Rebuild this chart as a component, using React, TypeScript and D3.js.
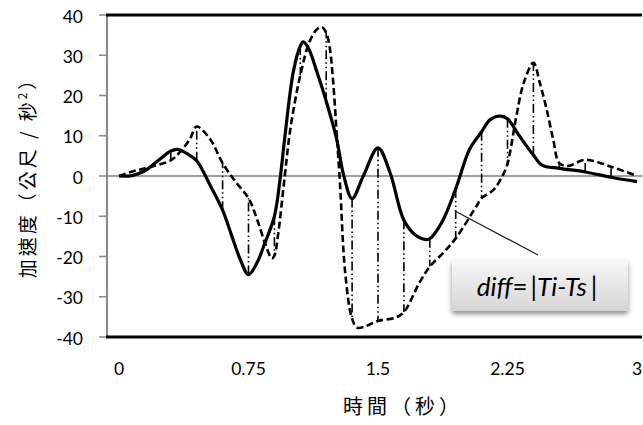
import React from 'react';
import * as d3 from 'd3';

// Solid curve (Ts)
const solidT = [0, 0.075, 0.15, 0.225, 0.3, 0.34, 0.4, 0.45, 0.53, 0.6, 0.65, 0.7, 0.75, 0.8, 0.84, 0.9, 0.935, 0.96, 1.01, 1.05, 1.067, 1.1, 1.145, 1.2, 1.26, 1.3, 1.35, 1.415, 1.5, 1.57, 1.65, 1.72, 1.78, 1.8, 1.87, 1.95, 2.03, 2.1, 2.15, 2.21, 2.25, 2.32, 2.4, 2.45, 2.55, 2.7, 2.85, 3];
const solidV = [0, 0.1, 1.3, 3.8, 6.2, 6.6, 5.4, 3.8, -2.5, -8.5, -14.5, -20.5, -24.5, -21.5, -17.2, -10, 0, 9.5, 26, 32.3, 33.3, 31.5, 26, 18.6, 9.3, 0.4, -5.6, 0, 7, 0.8, -11, -14.8, -15.8, -15.6, -11.5, -3.2, 6.6, 11, 14, 14.9, 14.2, 9.9, 5.2, 2.7, 1.9, 1.0, -0.3, -1.4];

// Dashed curve (Ti)
const dashedT = [0, 0.083, 0.15, 0.3, 0.35, 0.41, 0.45, 0.53, 0.6, 0.68, 0.75, 0.8, 0.845, 0.885, 0.9, 0.92, 0.96, 0.99, 1.03, 1.05, 1.1, 1.145, 1.175, 1.2, 1.22, 1.24, 1.26, 1.28, 1.31, 1.35, 1.38, 1.43, 1.5, 1.6, 1.65, 1.74, 1.8, 1.88, 1.95, 2.07, 2.1, 2.17, 2.225, 2.25, 2.3, 2.343, 2.4, 2.438, 2.477, 2.515, 2.55, 2.6, 2.7, 2.85, 3];
const dashedV = [0, 1.2, 1.9, 3.9, 5.8, 9.1, 12.3, 9, 3.2, -1.7, -5.5, -10.8, -16.6, -20.5, -19.8, -15, 0, 11, 21, 25, 33, 36.4, 37, 35.6, 32, 23.6, 11, -2, -24, -35.5, -37.7, -37.3, -36, -35.2, -33.8, -26.5, -22.5, -19, -15.5, -7.5, -5.5, -3.4, 0.4, 3, 14.5, 23, 28.1, 23, 16.5, 9, 3.2, 2.5, 4.0, 2.3, 0];

// Times at which the difference lines are drawn
const diffTimes = [0.15, 0.3, 0.45, 0.6, 0.75, 0.9, 1.05, 1.2, 1.35, 1.5, 1.65, 1.8, 1.95, 2.1, 2.25, 2.4, 2.55, 2.7, 2.85];

const yTicks = [-40, -30, -20, -10, 0, 10, 20, 30, 40];
const xTickValues = [0, 0.75, 1.5, 2.25, 3];
const xTickLabels = ['0', '0.75', '1.5', '2.25', '3'];

const W = 643;
const H = 425;
const plotLeft = 106;
const plotRight = 642;
const plotTop = 15;
const plotBottom = 337;

const x = d3.scaleLinear().domain([0, 3]).range([119, 637]);
const y = d3.scaleLinear().domain([-40, 40]).range([plotBottom, plotTop]);

const line = d3
  .line<[number, number]>()
  .x((d) => x(d[0]))
  .y((d) => y(d[1]))
  .curve(d3.curveCatmullRom.alpha(0.5));

const solidPts: [number, number][] = solidT.map((t, i) => [t, solidV[i]]);
const dashedPts: [number, number][] = dashedT.map((t, i) => [t, dashedV[i]]);

const findVal = (ts: number[], vs: number[], t: number) => {
  const i = ts.findIndex((v) => Math.abs(v - t) < 1e-9);
  return vs[i];
};

const tickFont = 'Lato, "Open Sans", sans-serif';
const cjkFont = '"Noto Sans CJK TC", "Noto Sans CJK SC", sans-serif';

export default function App() {
  return (
    <svg
      width={W}
      height={H}
      viewBox={`0 0 ${W} ${H}`}
      style={{ position: 'absolute', left: 0, top: 0, background: '#fff' }}
    >
      <defs>
        <linearGradient id="boxGrad" x1="0" y1="0" x2="0" y2="1">
          <stop offset="0" stopColor="#f7f7f7" />
          <stop offset="1" stopColor="#d6d6d6" />
        </linearGradient>
        <filter id="shadow" x="-20%" y="-30%" width="140%" height="170%">
          <feGaussianBlur in="SourceAlpha" stdDeviation="2.5" />
          <feOffset dx="0" dy="2.5" result="ob" />
          <feComponentTransfer>
            <feFuncA type="linear" slope="0.45" />
          </feComponentTransfer>
          <feMerge>
            <feMergeNode />
            <feMergeNode in="SourceGraphic" />
          </feMerge>
        </filter>
      </defs>

      {/* zero gridline */}
      <line x1={plotLeft} x2={plotRight} y1={y(0)} y2={y(0)} stroke="#808080" strokeWidth={1.6} />

      {/* y axis ticks */}
      {yTicks.map((t) => (
        <g key={t}>
          <line x1={plotLeft - 7} x2={plotLeft} y1={y(t)} y2={y(t)} stroke="#8c8c8c" strokeWidth={1.6} />
          <text
            x={83}
            y={y(t) + 1}
            textAnchor="end"
            dominantBaseline="central"
            fontFamily={tickFont}
            fontSize={17.5}
            fill="#000"
          >
            {t}
          </text>
        </g>
      ))}

      {/* x tick labels */}
      {xTickValues.map((t, i) => (
        <text
          key={t}
          x={x(t)}
          y={375}
          textAnchor="middle"
          fontFamily={tickFont}
          fontSize={17.5}
          fill="#000"
        >
          {xTickLabels[i]}
        </text>
      ))}

      {/* diff lines */}
      {diffTimes.map((t) => {
        const a = findVal(solidT, solidV, t);
        const b = findVal(dashedT, dashedV, t);
        return (
          <line
            key={t}
            x1={x(t)}
            x2={x(t)}
            y1={y(a)}
            y2={y(b)}
            stroke="#000"
            strokeWidth={1.6}
            strokeDasharray="9,3,1.5,3,1.5,3"
          />
        );
      })}

      {/* curves */}
      <path d={line(dashedPts) || ''} fill="none" stroke="#000" strokeWidth={2.6} strokeDasharray="7,3.5" />
      <path d={line(solidPts) || ''} fill="none" stroke="#000" strokeWidth={3.2} strokeLinejoin="round" />

      {/* axes frame */}
      <line x1={plotLeft + 1} x2={plotLeft + 1} y1={plotTop} y2={plotBottom} stroke="#8c8c8c" strokeWidth={2.2} />
      <line x1={plotLeft} x2={plotRight} y1={plotTop} y2={plotTop} stroke="#000" strokeWidth={3} />
      <line x1={plotLeft} x2={plotRight} y1={plotBottom} y2={plotBottom} stroke="#000" strokeWidth={3} />

      {/* annotation */}
      <line x1={455} y1={211} x2={538} y2={255} stroke="#222" strokeWidth={1.3} />
      <rect x={452} y={260} width={176} height={51} fill="url(#boxGrad)" filter="url(#shadow)" />
      <text
        x={537}
        y={296}
        textAnchor="middle"
        fontFamily={'Lato, "Open Sans", sans-serif'}
        fontSize={26}
        fill="#000"
      >
        <tspan fontStyle="italic">diff</tspan>
        <tspan>=</tspan>
        <tspan dx={3}>|</tspan>
        <tspan fontStyle="italic">Ti-Ts</tspan>
        <tspan dx={4}>|</tspan>
      </text>

      {/* axis titles */}
      <text
        x={403}
        y={405}
        textAnchor="middle"
        dominantBaseline="central"
        fontFamily={cjkFont}
        fontSize={20}
        letterSpacing={4}
        fill="#000"
      >
        時間（秒）
      </text>
      <text
        transform={`translate(26, 173) rotate(-90)`}
        textAnchor="middle"
        dominantBaseline="central"
        fontFamily={cjkFont}
        fontSize={19}
        letterSpacing={3}
        fill="#000"
      >
        加速度（公尺 / 秒<tspan fontSize={12} dy={-5}>2</tspan><tspan dy={5}>）</tspan>
      </text>
    </svg>
  );
}
